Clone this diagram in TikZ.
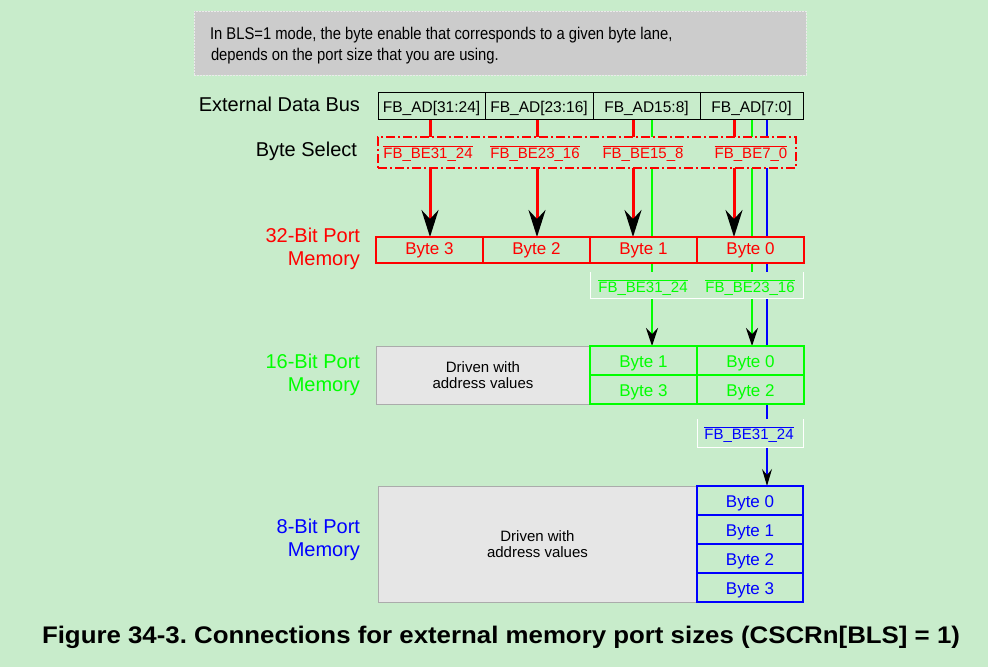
\documentclass[tikz,border=0pt]{standalone}
\usepackage{fontspec}
\setmainfont{Liberation Sans}
\usepackage{graphicx}
\usepackage{xcolor}
\definecolor{pagegreen}{HTML}{C8ECCB}
\definecolor{notegray}{HTML}{CCCCCC}
\definecolor{drivengray}{HTML}{E6E6E6}
\definecolor{lanered}{HTML}{FF0000}
\definecolor{lanegreen}{HTML}{00FF00}
\definecolor{laneblue}{HTML}{0000FF}
\usepackage{tikz}
\usetikzlibrary{arrows.meta}
\frenchspacing
\newcommand{\fsz}[2]{\fontsize{#1}{#2}\selectfont}
\newcommand{\selbar}[1]{$\overline{\mbox{#1}}$}
\pgfdeclarelayer{back}
\pgfdeclarelayer{wires}
\pgfsetlayers{back,wires,main}

\tikzset{
  every node/.style={inner sep=0pt, outer sep=0pt},
  notebox/.style={draw=black!8, line width=1pt, dash pattern=on 2pt off 1pt, fill=notegray,
    minimum width=612pt, minimum height=64pt},
  buscell/.style={draw=black, line width=1pt, fill=pagegreen, minimum height=27pt,
    text height=13pt, text depth=0pt, font=\fsz{15.5}{17}},
  bytecell/.style={draw=#1, text=#1, line width=1.2pt, fill=pagegreen, minimum width=107pt,
    minimum height=26pt, text height=12.5pt, text depth=4pt, font=\fsz{17}{19}},
  stackcell/.style={bytecell=#1, minimum height=29pt, text height=13pt, text depth=0pt},
  drivenbox/.style={draw=black!33, line width=1pt, fill=drivengray, align=center,
    font=\fsz{15}{15.5}},
  buslabel/.style={anchor=base east, font=\fsz{20}{22}},
  sidelabel/.style={anchor=east, align=right, font=\fsz{20}{22.5}},
  selbox/.style={draw=lanered, line width=2pt, dash pattern=on 9pt off 3pt on 2pt off 3pt,
    fill=pagegreen, minimum width=418pt, minimum height=31pt},
  sellabel/.style={anchor=base, text=#1, font=\fsz{15}{17}},
  strip/.style={fill=pagegreen},
  redwire/.style={draw=lanered, line width=3pt, -{Stealth[black, length=27pt, width=17pt, inset=9pt]}},
  greenwire/.style={draw=lanegreen, line width=1.2pt, -{Stealth[black, length=18pt, width=12pt, inset=6pt]}},
  bluewire/.style={draw=laneblue, line width=1.2pt, -{Stealth[black, length=17pt, width=10pt, inset=6pt]}}
}

\begin{document}
\begin{tikzpicture}[x=1pt, y=-1pt]
  \useasboundingbox (0,0) rectangle (988,667);
  \begin{pgfonlayer}{back}
    \fill[pagegreen] (0,0) rectangle (988,667);
  \end{pgfonlayer}

  % note on top
  \node[notebox] (note) at (500,43) {};
  \node[anchor=base west, font=\fsz{17}{19}] (note1) at (210,39)
    {\scalebox{0.87}[1]{In BLS=1 mode, the byte enable that corresponds to a given byte lane,}};
  \node[anchor=base west, font=\fsz{17}{19}] (note2) at (211,60)
    {\scalebox{0.87}[1]{depends on the port size that you are using.}};

  % row names
  \node[buslabel] (busname) at (360,111) {External Data Bus};
  \node[buslabel] (selname) at (357,156) {Byte Select};
  \node[sidelabel, text=lanered] (name32) at (360,249) {32-Bit Port\\Memory};
  \node[sidelabel, text=lanegreen] (name16) at (360,375) {16-Bit Port\\Memory};
  \node[sidelabel, text=laneblue] (name8) at (360,540) {8-Bit Port\\Memory};

  % external data bus
  \foreach \i/\x/\w/\t in {3/431.5/107/{FB\_AD[31:24]}, 2/539/108/{FB\_AD[23:16]},
                            1/646.5/107/{FB\_AD15:8]}, 0/751.5/103/{FB\_AD[7:0]}}
    \node[buscell, minimum width=\w pt] (ad\i) at (\x,105.5) {\t};

  % byte select
  \node[selbox] (sel) at (587,152.5) {};
  \foreach \i/\x/\t in {3/428/{FB\_BE31\_24}, 2/535/{FB\_BE23\_16}, 1/643/{FB\_BE15\_8}, 0/751/{FB\_BE7\_0}}
    \node[sellabel=lanered] (be\i) at (\x,158) {\selbar{\t}};

  % 32-bit port
  \foreach \i/\x in {3/429.5, 2/536.5, 1/643.5, 0/750.5}
    \node[bytecell=lanered] (m32b\i) at (\x,250) {Byte \i};
  \node[strip, minimum width=213pt, minimum height=26pt] (strip16) at (696.5,285) {};
  \draw[white, line width=1pt] (strip16.north west) -- (strip16.south west)
    -- (strip16.south east) -- (strip16.north east);
  \node[sellabel=lanegreen] (ge1) at (643,292) {\selbar{FB\_BE31\_24}};
  \node[sellabel=lanegreen] (ge0) at (750,292) {\selbar{FB\_BE23\_16}};

  % 16-bit port
  \node[drivenbox, minimum width=214pt, minimum height=58pt] (drive16) at (483,375)
    {Driven with\\address values};
  \foreach \i/\x/\y in {1/643.5/360.5, 0/750.5/360.5, 3/643.5/389.5, 2/750.5/389.5}
    \node[stackcell=lanegreen] (m16b\i) at (\x,\y) {Byte \i};
  \node[strip, minimum width=106pt, minimum height=28pt] (strip8) at (750,433) {};
  \draw[white, line width=1pt] (strip8.north west) -- (strip8.south west)
    -- (strip8.south east) -- (strip8.north east);
  \node[sellabel=laneblue] (bbe0) at (749,439) {\selbar{FB\_BE31\_24}};

  % 8-bit port
  \node[drivenbox, minimum width=319pt, minimum height=116pt] (drive8) at (537.5,544)
    {Driven with\\address values};
  \foreach \i/\y in {0/500.5, 1/529.5, 2/558.5, 3/587.5}
    \node[stackcell=laneblue, minimum width=106pt] (m8b\i) at (750,\y) {Byte \i};

  % lanes
  \foreach \i/\x in {3/430, 2/537, 1/633, 0/734}
    \coordinate (lane\i) at (\x,0);
  \coordinate (glane1) at (652,0);
  \coordinate (glane0) at (752,0);
  \coordinate (blane0) at (767,0);
  \begin{pgfonlayer}{wires}
    \foreach \i in {3,2,1,0}
      \draw[redwire] (ad\i.south -| lane\i) -- (m32b\i.north -| lane\i);
    \draw[greenwire] (ad1.south -| glane1) -- (m16b1.north -| glane1);
    \draw[greenwire] (ad0.south -| glane0) -- (m16b0.north -| glane0);
    \draw[bluewire] (ad0.south -| blane0) -- (m8b0.north -| blane0);
  \end{pgfonlayer}

  \node[anchor=base west, font=\fsz{24}{26}\bfseries] (caption) at (42,643)
    {\resizebox{918pt}{\height}{Figure 34-3. Connections for external memory port sizes (CSCRn[BLS] = 1)}};
\end{tikzpicture}
\end{document}
